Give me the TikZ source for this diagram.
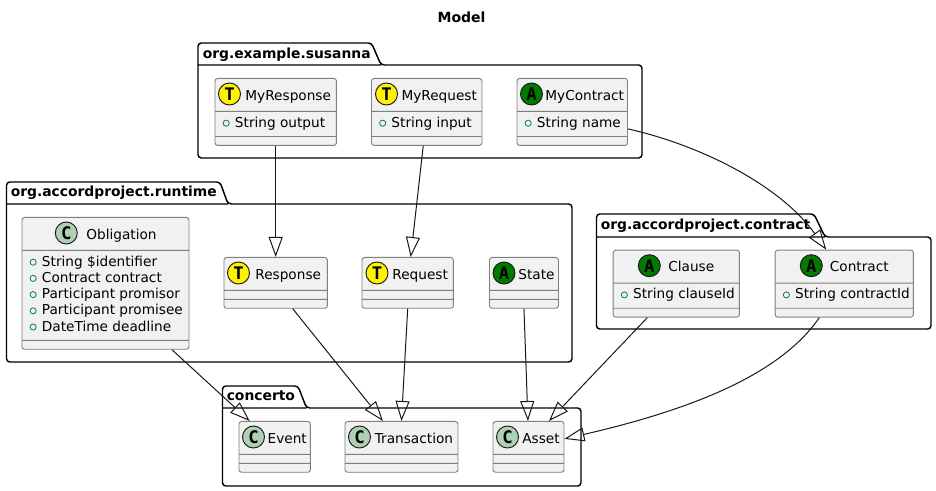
\documentclass[tikz,border=0pt]{standalone}
\usepackage{fontspec}
\setmainfont{DejaVu Sans}
\newfontfamily\spotfont{DejaVu Sans Mono}
\usetikzlibrary{calc, arrows.meta, shapes.multipart}

\definecolor{class_fill}{HTML}{F1F1F1}
\definecolor{class_line}{HTML}{7F7F7F}
\definecolor{ink}{HTML}{181818}
\definecolor{pub_green}{HTML}{038048}
\definecolor{spot_c}{HTML}{ADD1B2}
\definecolor{spot_a}{HTML}{007A00}

\newcommand{\pubmark}{\hspace*{5.8pt}\tikz[baseline=-3pt]\draw[pub_green, line width=.6pt] (0,0) circle (2.3pt);\hspace*{4pt}}
\newcommand{\members}[1]{\begin{tabular}{@{}l@{}}#1\end{tabular}}
\newcommand{\classtitle}[3]{\rule[-5pt]{0pt}{18pt}\makebox[#1pt][c]{\hspace*{#2pt}#3}}
\newcommand{\nofields}{\raisebox{0pt}[-1.5pt][-1.5pt]{\hspace*{.1pt}}}

\begin{document}
\begin{tikzpicture}[
    x=0.75pt,
    y=-0.75pt,
    base_font/.style={font=\fontsize{10.25pt}{12.15pt}\selectfont},
    class_box/.style={
            rectangle split,
            rectangle split parts=3,
            rectangle split part align={center, left, left},
            anchor=north west,
            draw=class_line,
            fill=class_fill,
            line width=.7pt,
            rounded corners=2pt,
            inner xsep=0pt,
            inner ysep=3pt,
            base_font
        },
    spot/.style={
            circle,
            draw=ink,
            line width=.7pt,
            minimum size=16.5pt,
            inner sep=0pt,
            font=\spotfont\bfseries\fontsize{13pt}{13pt}\selectfont
        },
    package_border/.style={line width=1.1pt, rounded corners=2.5pt},
    package_label/.style={anchor=base west, inner sep=0pt, font=\bfseries\fontsize{10.4pt}{12pt}\selectfont},
    extends/.style={ink, line width=.75pt, -{Triangle[open, length=15pt, width=10.5pt]}},
    ]
    \useasboundingbox (0,0) rectangle (936,491);

    % --- Title ---
    \node[anchor=base, inner sep=0pt, font=\bfseries\fontsize{10.5pt}{12pt}\selectfont] (model_title) at (461.5,23) {Model};

    % --- Packages ---
    \draw[package_border] (198,65) -- (198,43) -- (371.5,43) -- (381,65) -- (642,65) -- (642,158) -- (198,158) -- cycle (198,65) -- (381,65);
    \node[package_label] (susanna_label) at (202.5,58.5) {org.example.susanna};

    \draw[package_border] (6.5,204) -- (6.5,182) -- (220,182) -- (228,204) -- (572,204) -- (572,362) -- (6.5,362) -- cycle (6.5,204) -- (228,204);
    \node[package_label] (runtime_label) at (10.5,197) {org.accordproject.runtime};

    \draw[package_border] (596.5,237) -- (596.5,214) -- (814,214) -- (825,237) -- (931,237) -- (931,329) -- (596.5,329) -- cycle (596.5,237) -- (825,237);
    \node[package_label] (contract_label) at (600.5,230) {org.accordproject.contract};

    \draw[package_border] (222.5,408) -- (222.5,386) -- (298,386) -- (306.5,408) -- (581,408) -- (581,486) -- (222.5,486) -- cycle (222.5,408) -- (306.5,408);
    \node[package_label] (concerto_label) at (226.5,401) {concerto};

    % --- org.example.susanna ---
    \node[class_box] (my_response) at (214.5,78) {\classtitle{91.1}{18.75}{MyResponse}\nodepart{two}\members{\pubmark String output}\nodepart{three}\nofields};
    \node[spot, fill=yellow] (my_response_spot) at ($(my_response.north west)+(15,16)$) {T};
    \node[class_box] (my_request) at (371,78) {\classtitle{82.9}{18.75}{MyRequest}\nodepart{two}\members{\pubmark String input}\nodepart{three}\nofields};
    \node[spot, fill=yellow] (my_request_spot) at ($(my_request.north west)+(15.5,16)$) {T};
    \node[class_box] (my_contract) at (516.5,78) {\classtitle{82.9}{18.75}{MyContract}\nodepart{two}\members{\pubmark String name}\nodepart{three}\nofields};
    \node[spot, fill=spot_a] (my_contract_spot) at ($(my_contract.north west)+(15,16)$) {A};

    % --- org.accordproject.runtime ---
    \node[class_box] (obligation) at (21.5,217) {\classtitle{125.25}{24}{Obligation}\nodepart{two}\members{\pubmark String \$identifier\\ \pubmark Contract contract\\ \pubmark Participant promisor\\ \pubmark Participant promisee\\ \pubmark DateTime deadline}\nodepart{three}\nofields};
    \node[spot, fill=spot_c] (obligation_spot) at ($(obligation.north west)+(44.8,16)$) {C};
    \node[class_box] (response) at (223.5,257) {\classtitle{77.6}{18.75}{Response}\nodepart{two}\nofields\nodepart{three}\nofields};
    \node[spot, fill=yellow] (response_spot) at ($(response.north west)+(15,16)$) {T};
    \node[class_box] (request) at (361.5,257) {\classtitle{68.6}{18.75}{Request}\nodepart{two}\nofields\nodepart{three}\nofields};
    \node[spot, fill=yellow] (request_spot) at ($(request.north west)+(15.5,16)$) {T};
    \node[class_box] (state) at (489,257) {\classtitle{51.75}{18.75}{State}\nodepart{two}\nofields\nodepart{three}\nofields};
    \node[spot, fill=spot_a] (state_spot) at ($(state.north west)+(15,16)$) {A};

    % --- org.accordproject.contract ---
    \node[class_box] (clause) at (612.7,249.7) {\classtitle{94.7}{22.5}{Clause}\nodepart{two}\members{\pubmark String clauseId}\nodepart{three}\nofields};
    \node[spot, fill=spot_a] (clause_spot) at ($(clause.north west)+(36.6,16)$) {A};
    \node[class_box] (contract) at (774.7,249.7) {\classtitle{103.7}{22.5}{Contract}\nodepart{two}\members{\pubmark String contractId}\nodepart{three}\nofields};
    \node[spot, fill=spot_a] (contract_spot) at ($(contract.north west)+(36.6,16)$) {A};

    % --- concerto ---
    \node[class_box] (event) at (238.5,421) {\classtitle{53.6}{18.75}{Event}\nodepart{two}\nofields\nodepart{three}\nofields};
    \node[spot, fill=spot_c] (event_spot) at ($(event.north west)+(15,16)$) {C};
    \node[class_box] (transaction) at (344.5,421) {\classtitle{84.75}{18.75}{Transaction}\nodepart{two}\nofields\nodepart{three}\nofields};
    \node[spot, fill=spot_c] (transaction_spot) at ($(transaction.north west)+(15,16)$) {C};
    \node[class_box] (asset) at (492.5,421) {\classtitle{53.25}{18.75}{Asset}\nodepart{two}\nofields\nodepart{three}\nofields};
    \node[spot, fill=spot_c] (asset_spot) at ($(asset.north west)+(15,16)$) {C};

    % --- Arrows ---
    \draw[extends] (my_response.south) -- (response.north);
    \draw[extends] ($(my_request.south)+(-3.5,0)$) -- ($(request.north)+(3,0)$);
    \draw[extends] ($(my_contract.south east)+(0,-17)$) .. controls (700,145) and (780,185) .. ($(contract.north)+(-18.1,0)$);
    \draw[extends] ($(obligation.south)+(66.5,0)$) -- ($(event.north)+(-25,0)$);
    \draw[extends] ($(response.south)+(17,0)$) -- ($(transaction.north)+(-18.5,0)$);
    \draw[extends] (request.south) -- (transaction.north);
    \draw[extends] (state.south) -- ($(asset.north)-(0.5,0)$);
    \draw[extends] ($(clause.south)-(29,0)$) -- ($(asset.north)+(20.5,0)$);
    \draw[extends] ($(contract.south)-(25,0)$) .. controls (780,375) and (690,410) .. ($(asset.east)+(0,-8)$);

\end{tikzpicture}
\end{document}
